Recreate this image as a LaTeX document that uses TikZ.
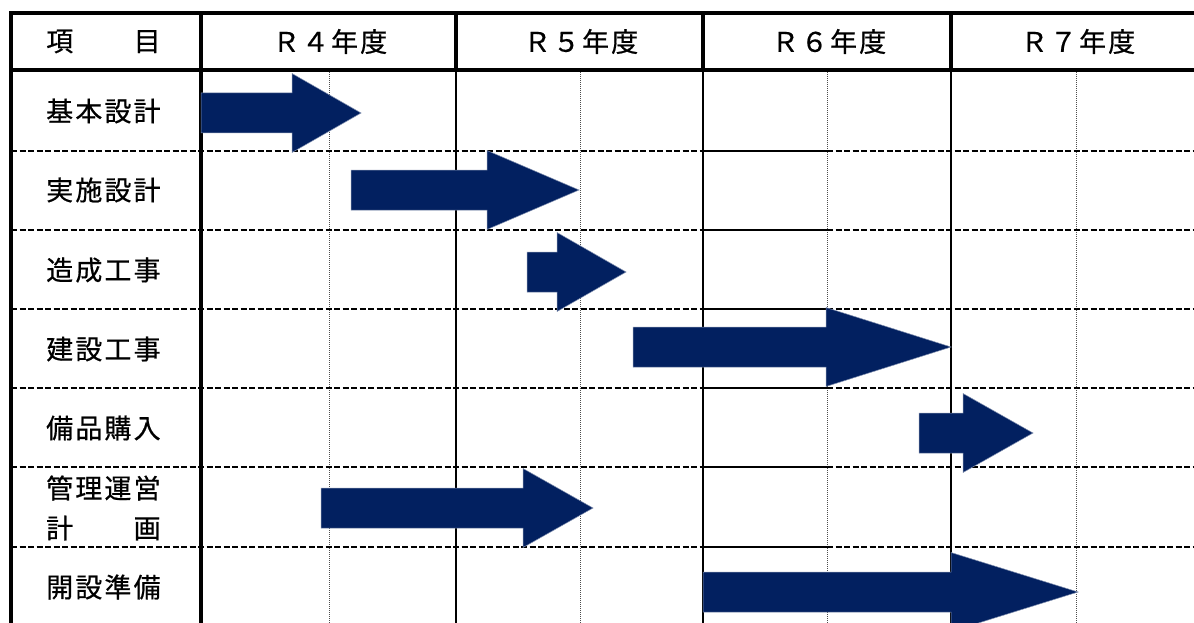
\documentclass[tikz,border=0pt]{standalone}
\usepackage{fontspec}
\newfontfamily\jp[LetterSpace=8,FakeBold=0.6]{Noto Sans CJK JP}
\definecolor{navy}{RGB}{2,32,96}
\newcommand\blockarrow[4]{% x0, head base, tip, y centre
  \fill[arrowfill] (#1,{#4-20}) -- (#2,{#4-20}) -- (#2,{#4-39.5}) -- (#3,#4)
    -- (#2,{#4+39.5}) -- (#2,{#4+20}) -- (#1,{#4+20}) -- cycle;}
\begin{document}
\begin{tikzpicture}[x=1pt,y=-1pt,
  frame/.style={line width=3.4pt},
  yearline/.style={line width=2.2pt},
  rowdash/.style={line width=2pt, dash pattern=on 6pt off 2.5pt},
  rowsolid/.style={line width=2pt},
  halfline/.style={line width=1pt, black!70, dash pattern=on 1pt off 1pt},
  lbl/.style={font=\jp\fontsize{27}{40}\selectfont, anchor=west, inner sep=0pt, align=left},
  hdr/.style={font=\jp\fontsize{27}{30}\selectfont, inner sep=0pt},
  arrowfill/.style={fill=navy, draw=navy!50!white, line width=0.5pt}]
\useasboundingbox (0,0) rectangle (1194,623);
\fill[white] (0,0) rectangle (1194,623);

% half-year dotted lines
\foreach \x in {329,580,827,1076} \draw[halfline] (\x,70) -- (\x,623);

% row dividers
\foreach \y in {151,230,309,388,467,547} {
  \draw[rowdash] (11,\y) -- (703,\y);
  \draw[rowsolid] (703,\y) -- (827,\y);
  \draw[rowdash] (827,\y) -- (1194,\y);
}

% year lines
\foreach \x in {456,703,951} {
  \draw[yearline] (\x,13) -- (\x,623);
  \draw[frame] (\x,13) -- (\x,70);
}

% frame
\draw[frame] (11,623) -- (11,13) -- (1194,13);
\draw[frame] (11,70) -- (1194,70);
\draw[frame] (201,13) -- (201,623);

% header
\node[lbl] (hitem) at (46,41.5) {項　　目};
\node[hdr] (r4) at (330,41.5) {Ｒ４年度};
\node[hdr] (r5) at (581,41.5) {Ｒ５年度};
\node[hdr] (r6) at (829,41.5) {Ｒ６年度};
\node[hdr] (r7) at (1078,41.5) {Ｒ７年度};

% row labels
\node[lbl] (k1) at (46,111) {基本設計};
\node[lbl] (k2) at (46,190) {実施設計};
\node[lbl] (k3) at (46,270) {造成工事};
\node[lbl] (k4) at (46,349) {建設工事};
\node[lbl] (k5) at (46,428) {備品購入};
\node[lbl] (k6) at (46,508) {管理運営\\計　　画};
\node[lbl] (k7) at (46,587) {開設準備};

% arrows
\blockarrow{201}{292}{361}{113}
\blockarrow{351}{487}{579}{190}
\blockarrow{527}{557}{626}{272}
\blockarrow{633}{826}{951}{347}
\blockarrow{919}{963}{1033}{433}
\blockarrow{321}{523}{593}{508}
\blockarrow{703}{951}{1078}{592}
\end{tikzpicture}
\end{document}
